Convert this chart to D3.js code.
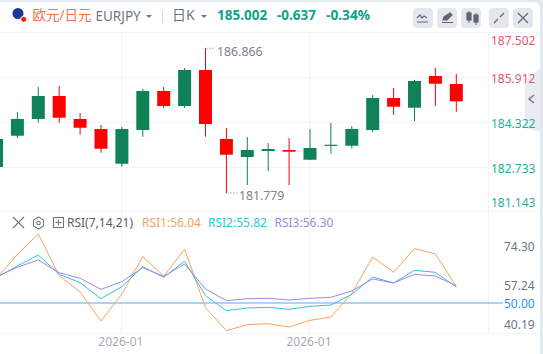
<!DOCTYPE html>
<html>
<head>
<meta charset="utf-8">
<script src="https://cdn.jsdelivr.net/npm/d3@7"></script>
<style>
  html, body { margin: 0; padding: 0; background: #e3e7ee; overflow: hidden; }
  text { font-family: "Noto Sans", "Noto Sans CJK SC", sans-serif; }
</style>
</head>
<body>
<div id="graph"></div>
<script>
let w = 543;
let h = 354;

// daily candles, first one is cut off by the left edge
let opens  = [182.692,183.793,184.380,185.189,184.380,184.028,182.808,183.993,185.365,184.837,186.103,183.677,183.044,183.255,183.290,182.949,183.441,183.441,183.993,185.118,184.777,185.892,185.611];
let closes = [183.677,184.380,185.189,184.426,184.074,183.336,184.028,185.365,184.837,186.103,184.204,183.125,183.290,183.325,183.230,183.360,183.476,184.028,185.118,184.813,185.716,185.621,185.002];
let highs  = [183.677,184.626,185.505,185.540,184.591,184.169,184.099,185.435,185.505,186.173,186.866,184.064,183.747,183.536,183.712,184.028,184.239,184.134,185.224,185.470,185.751,186.173,185.962];
let lows   = [182.692,183.712,184.250,184.250,183.828,183.195,182.703,183.758,184.767,184.767,183.758,181.779,182.059,182.552,182.059,182.938,183.160,183.336,183.923,184.521,184.310,184.837,184.637];

let rsi1 = [59.00,67.76,75.18,59.98,54.01,43.43,53.28,66.91,59.85,69.59,48.30,39.90,42.09,42.46,41.24,43.67,44.89,53.53,66.79,61.19,69.83,67.88,56.04];
let rsi2 = [59.25,63.50,67.52,60.46,57.42,51.58,55.96,63.26,59.37,65.21,52.68,47.20,48.18,48.42,47.69,48.78,49.27,53.16,59.49,57.30,61.92,61.19,55.82];
let rsi3 = [59.61,63.02,65.69,61.07,59.00,54.99,57.79,62.90,59.73,64.23,55.11,50.85,51.58,51.70,51.09,51.70,52.07,54.38,58.76,57.30,60.46,59.85,56.30];

let priceTicks = [187.502,185.912,184.322,182.733,181.143];
let rsiTicks = [74.30,57.24,40.19];
let dateLabels = ["2026-01","2026-01"];
let dateIndexes = [6,15];

let upColor = "#108257";
let downColor = "#ff0000";

let xScale = d3.scaleLinear().domain([0,22]).range([-3.5,456.3]);
// candles sit slightly off the axis labels in the reference, so they get their own scale
let yScale = d3.scaleLinear().domain([181.779,186.866]).range([193,48.3]);
let gridScale = d3.scaleLinear().domain([181.143,187.502]).range([211.5,32]);
let rsiScale = d3.scaleLinear().domain([50,56.2]).range([303,286]);
let rsiLabelScale = d3.scaleLinear().domain([40.19,74.30]).range([324.5,246]);

let viz = d3.select("#graph")
  .append("svg")
    .attr("width", w)
    .attr("height", h)
    .style("display", "block")
;

// card
viz.append("rect")
  .attr("x", -10).attr("y", 2)
  .attr("width", 550).attr("height", 362)
  .attr("rx", 6)
  .attr("fill", "white")
;

// header
viz.append("circle").attr("cx", 18).attr("cy", 13.5).attr("r", 5.5).attr("fill", "#1a3a94");
viz.append("circle").attr("cx", 23.7).attr("cy", 19.3).attr("r", 3).attr("fill", "#f01818").attr("stroke", "white");

function headerText(x, y, str, size, color, weight){
  return viz.append("text")
    .attr("x", x).attr("y", y)
    .attr("font-size", size)
    .attr("fill", color)
    .attr("font-weight", weight || "normal")
    .text(str);
}
headerText(32.5, 20, "欧元/日元", 13.5, "#f4734d");
headerText(95.5, 21, "EURJPY", 13.5, "#6f7684");
headerText(172, 20, "日K", 14, "#6f7684");
headerText(217, 20, "185.002", 13.5, "#0fa28a", "bold");
headerText(277, 20, "-0.637", 13.5, "#0fa28a", "bold");
headerText(326, 20, "-0.34%", 13.7, "#0fa28a", "bold");

function caret(x, y){
  viz.append("path").attr("d", d3.line()([[x,y],[x+6,y],[x+3,y+3]])+"Z").attr("fill", "#6f7684");
}
caret(146, 15);
caret(201, 15);
viz.append("line").attr("x1", 162.5).attr("x2", 162.5).attr("y1", 10).attr("y2", 23).attr("stroke", "#d5d9e0");

// header buttons
let buttonX = [413,437,461,489,513];
viz.selectAll(".btn").data(buttonX).enter()
  .append("rect")
  .attr("class", "btn")
  .attr("x", d => d).attr("y", 8)
  .attr("width", 20).attr("height", 20)
  .attr("rx", 4)
  .attr("fill", "#e4e7ee")
;
let btnIcons = viz.append("g").attr("fill", "none").attr("stroke", "#5f6675").attr("stroke-width", 1.2);
btnIcons.append("path").attr("d", "M417 18l3-3 2 3 2-2 3 2M417 22h11");
btnIcons.append("path").attr("d", "M442 22.5h11M443 20l1-3 6-4 2 2-5 5z").attr("fill", "#5f6675");
btnIcons.append("path").attr("d", "M469 11v12M476 13v12").attr("stroke-width", 1);
btnIcons.append("rect").attr("x", 467).attr("y", 13).attr("width", 4).attr("height", 7).attr("fill", "#5f6675");
btnIcons.append("rect").attr("x", 474).attr("y", 15).attr("width", 4).attr("height", 7).attr("fill", "#5f6675");
btnIcons.append("path").attr("d", "M494 23l4-4M504 13l-4 4");
btnIcons.append("path").attr("d", "M518 13l10 10M528 13l-10 10");

// panel lines
let grid = viz.append("g").attr("stroke", "#f2f3f6").attr("stroke-width", 1);
grid.selectAll(".hgrid").data(priceTicks.slice(1,4)).enter()
  .append("line")
  .attr("x1", 0).attr("x2", 488)
  .attr("y1", d => Math.round(gridScale(d))+0.5)
  .attr("y2", d => Math.round(gridScale(d))+0.5)
;
grid.selectAll(".vgrid").data(dateIndexes).enter()
  .append("line")
  .attr("x1", d => Math.round(xScale(d))-0.5)
  .attr("x2", d => Math.round(xScale(d))-0.5)
  .attr("y1", 33).attr("y2", 333)
;
grid.append("line").attr("x1", 488.5).attr("x2", 488.5).attr("y1", 33).attr("y2", 333);
grid.append("line").attr("x1", 0).attr("x2", 540).attr("y1", 32.5).attr("y2", 32.5);
grid.append("line").attr("x1", 0).attr("x2", 540).attr("y1", 211.5).attr("y2", 211.5);
grid.append("line").attr("x1", 0).attr("x2", 540).attr("y1", 333.5).attr("y2", 333.5);

// candles
let candleData = opens.map((o, i) => ({i: i, o: o, c: closes[i], hi: highs[i], lo: lows[i]}));

function getColor(d){
  if(d.c >= d.o){
    return upColor;
  }
  return downColor;
}

let candles = viz.selectAll(".candle").data(candleData).enter()
  .append("g")
  .attr("class", "candle")
;
candles.append("line")
  .attr("x1", d => xScale(d.i))
  .attr("x2", d => xScale(d.i))
  .attr("y1", d => yScale(d.hi))
  .attr("y2", d => yScale(d.lo))
  .attr("stroke", getColor)
  .attr("stroke-width", 1)
;
candles.append("rect")
  .attr("x", d => xScale(d.i)-6.5)
  .attr("y", d => yScale(Math.max(d.o, d.c)))
  .attr("width", 13)
  .attr("height", d => Math.max(1.2, Math.abs(yScale(d.o)-yScale(d.c))))
  .attr("fill", getColor)
;

// high / low notes
let highIndex = d3.maxIndex(highs);
let lowIndex = d3.minIndex(lows);
let noteColor = "#7b8290";
viz.append("line")
  .attr("x1", xScale(highIndex)+1).attr("x2", xScale(highIndex)+10)
  .attr("y1", yScale(highs[highIndex])).attr("y2", yScale(highs[highIndex]))
  .attr("stroke", noteColor).attr("stroke-dasharray", "1,2");
viz.append("text")
  .attr("x", xScale(highIndex)+11.5).attr("y", yScale(highs[highIndex])+8)
  .attr("font-size", 12.3).attr("fill", noteColor)
  .text(d3.format(".3f")(highs[highIndex]));
viz.append("line")
  .attr("x1", xScale(lowIndex)+1).attr("x2", xScale(lowIndex)+11)
  .attr("y1", yScale(lows[lowIndex])).attr("y2", yScale(lows[lowIndex]))
  .attr("stroke", noteColor).attr("stroke-dasharray", "1,2");
viz.append("text")
  .attr("x", xScale(lowIndex)+12.5).attr("y", yScale(lows[lowIndex])+7)
  .attr("font-size", 12.3).attr("fill", noteColor)
  .text(d3.format(".3f")(lows[lowIndex]));

// side handle, sits under the axis labels
viz.append("path")
  .attr("d", "M540 68L525 80V128L540 132Z")
  .attr("fill", "#ebecf1")
;
viz.append("path")
  .attr("d", "M534 95l-5 4 5 4")
  .attr("fill", "none").attr("stroke", "#6f7684").attr("stroke-width", 1.4)
;

// price axis labels
function priceColor(d, i){
  if(i < 2){
    return "#e5586b";
  }
  return "#1fae94";
}
let priceLabelY = [45,82.5,128,173,207];
viz.selectAll(".plabel").data(priceTicks).enter()
  .append("text")
  .attr("class", "plabel")
  .attr("x", 491)
  .attr("y", (d, i) => priceLabelY[i])
  .attr("font-size", 12)
  .attr("fill", priceColor)
  .text(d => d3.format(".3f")(d))
;

// rsi legend
let legendIcons = viz.append("g").attr("fill", "none").attr("stroke", "#6f7684").attr("stroke-width", 1.1);
legendIcons.append("path").attr("d", "M13 217l11 11M24 217l-11 11");
legendIcons.append("path").attr("d", "M38.5 217l5 3v6l-5 3-5-3v-6z");
legendIcons.append("circle").attr("cx", 38.5).attr("cy", 223).attr("r", 1.8);
legendIcons.append("rect").attr("x", 53.5).attr("y", 217.5).attr("width", 10).attr("height", 10);
legendIcons.append("path").attr("d", "M58.5 219.5v6M55.5 222.5h6");

headerText(67, 227, "RSI(7,14,21)", 12, "#555c6a");
headerText(142, 227, "RSI1:56.04", 12, "#f7a35c");
headerText(208, 227, "RSI2:55.82", 12, "#2fc4e0");
headerText(274.5, 227, "RSI3:56.30", 12, "#a386e2");

// 50 line
viz.append("line")
  .attr("x1", 0).attr("x2", 503)
  .attr("y1", rsiScale(50)).attr("y2", rsiScale(50))
  .attr("stroke", "#8cc8f5").attr("stroke-width", 1.5)
;

// rsi lines
let rsiLine = d3.line()
  .x((d, i) => xScale(i))
  .y(d => rsiScale(d))
;
let rsiSeries = [rsi1, rsi2, rsi3];
let rsiColors = ["#f7a35c","#2fc4e0","#a386e2"];
viz.selectAll(".rsi").data(rsiSeries).enter()
  .append("path")
  .attr("class", "rsi")
  .attr("d", rsiLine)
  .attr("fill", "none")
  .attr("stroke", (d, i) => rsiColors[i])
  .attr("stroke-width", 1)
;

// rsi axis labels
viz.selectAll(".rlabel").data(rsiTicks).enter()
  .append("text")
  .attr("class", "rlabel")
  .attr("x", 504)
  .attr("y", d => rsiLabelScale(d)+4.5)
  .attr("font-size", 12)
  .attr("fill", "#6f7684")
  .text(d => d3.format(".2f")(d))
;
viz.append("text")
  .attr("x", 504).attr("y", rsiScale(50)+5)
  .attr("font-size", 12).attr("fill", "#2b95ee")
  .text("50.00");

// date labels
viz.selectAll(".dlabel").data(dateIndexes).enter()
  .append("text")
  .attr("class", "dlabel")
  .attr("x", d => xScale(d)-1)
  .attr("y", 346)
  .attr("text-anchor", "middle")
  .attr("font-size", 12)
  .attr("fill", "#a6abb7")
  .text((d, i) => dateLabels[i])
;
</script>
</body>
</html>
